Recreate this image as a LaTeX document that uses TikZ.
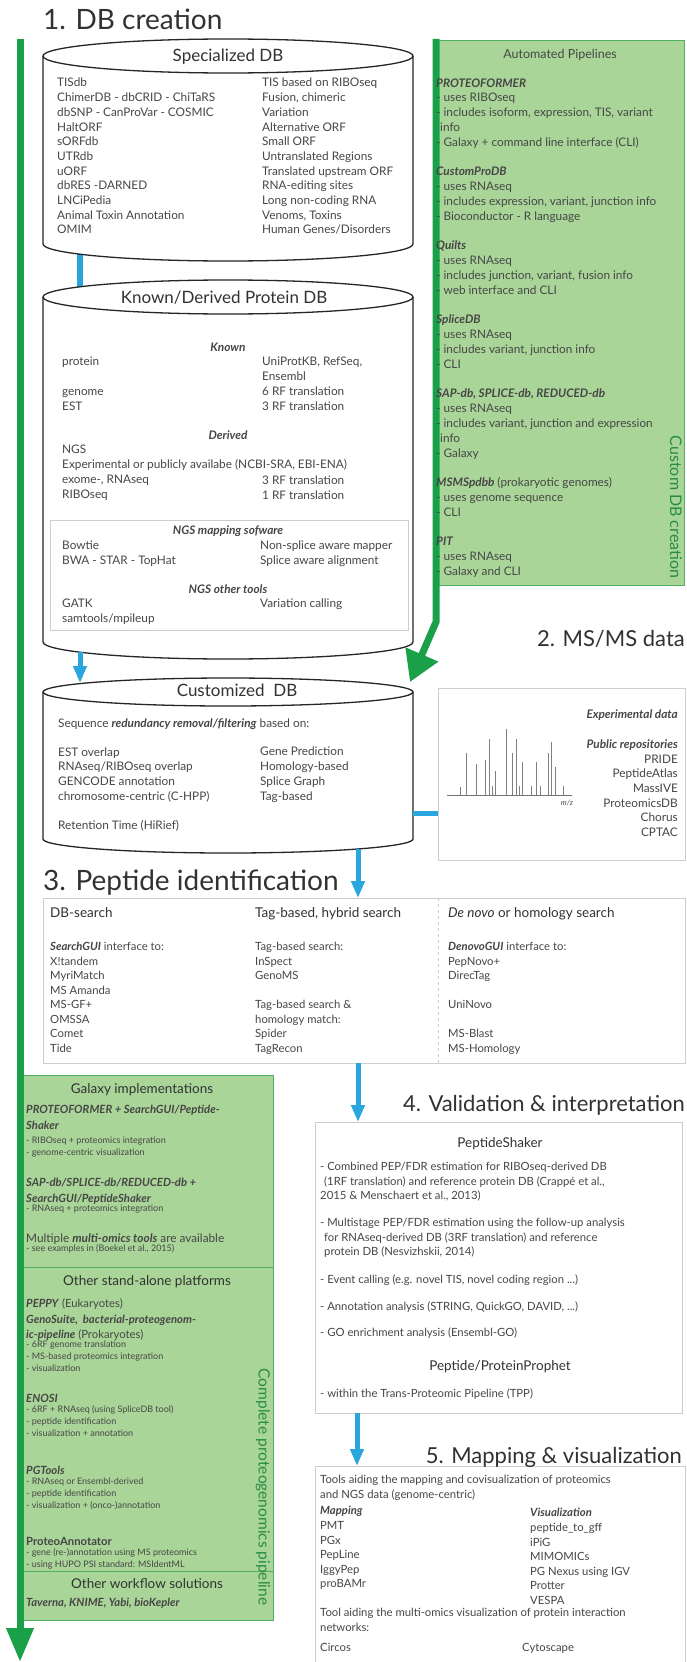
\documentclass[tikz,border=0pt]{standalone}
\usepackage{fontspec}
\setmainfont{Lato}
\usetikzlibrary{arrows.meta}
\definecolor{txtc}{RGB}{70,70,70}
\definecolor{titlec}{RGB}{50,50,50}
\definecolor{gline}{RGB}{27,160,74}
\definecolor{gfill}{RGB}{170,213,152}
\definecolor{gborder}{RGB}{80,175,100}
\definecolor{gtext}{RGB}{40,140,70}
\definecolor{bline}{RGB}{41,166,222}
\definecolor{boxgray}{RGB}{205,205,205}
\newcommand\fsz[2]{\fontsize{#1}{#2}\selectfont}
\newcommand\bi[1]{\textbf{\textit{#1}}}
\newcommand\dbcyl[5]{%
  \filldraw[cylline] ({#1-#2},#3) -- ({#1-#2},#4) arc[start angle=180,end angle=0,x radius=#2,y radius=#5] -- ({#1+#2},#3);
  \filldraw[cylline] (#1,#3) ellipse[x radius=#2,y radius=#5];}
\begin{document}
\begin{tikzpicture}[x=1pt,y=-1pt,
  t/.style={inner sep=0pt,text=txtc,font=\fsz{11.8}{14.7}},
  blk/.style={t,anchor=north west,align=left},
  blkr/.style={t,anchor=north east,align=right},
  sm/.style={blk,font=\fsz{11.3}{14.5}},
  tiny/.style={blk,font=\fsz{9}{12}},
  gh/.style={blk,font=\fsz{11.3}{15.5}\bfseries\itshape},
  hdr/.style={inner sep=0pt,text=titlec,font=\fsz{22}{26}},
  bighdr/.style={hdr,font=\fsz{28}{32}},
  dbt/.style={inner sep=0pt,text=titlec,font=\fsz{17}{20},anchor=base},
  sub/.style={inner sep=0pt,text=titlec,font=\fsz{13.5}{16}},
  cylline/.style={draw=black!85,line width=1.3pt,fill=white},
  graybox/.style={draw=boxgray,line width=0.9pt,inner sep=0pt,anchor=north west},
  greenbox/.style={draw=gborder,fill=gfill,line width=1pt,inner sep=0pt,anchor=north west},
  garrow/.style={draw=gline,line width=7pt},
  barrow/.style={draw=bline,line width=5pt,-{Triangle[length=17pt,width=13pt]}},
  vlabel/.style={inner sep=0pt,text=gtext,font=\fsz{16}{18},rotate=-90}]
\useasboundingbox (0,0) rectangle (686,1662);
\fill[white] (0,0) rectangle (686,1662);

% ---------- green boxes ----------
\node[greenbox,minimum width=251pt,minimum height=545pt] (pipe) at (433,40) {};
\node[greenbox,minimum width=251pt,minimum height=545pt] (galaxy) at (22,1075) {};
\draw[gborder,line width=0.8pt] (galaxy.west |- 0,1267) -- (galaxy.east |- 0,1267);
\draw[gborder,line width=0.8pt] (galaxy.west |- 0,1571) -- (galaxy.east |- 0,1571);

% ---------- gray boxes ----------
\node[graybox,minimum width=247pt,minimum height=172pt] (ms) at (438,688) {};
\node[graybox,minimum width=642pt,minimum height=165pt] (pep) at (43,898) {};
\draw[boxgray,line width=0.9pt,dashed] (438,898) -- (438,1063);
\node[graybox,minimum width=367pt,minimum height=291pt] (val) at (315,1122) {};
\coordinate (mapBL) at (315,1662);
\coordinate (mapTL) at (315,1466);
\coordinate (mapTR) at (685,1466);
\coordinate (mapBR) at (685,1662);
\draw[boxgray,line width=0.9pt] (mapBL) -- (mapTL) -- (mapTR) -- (mapBR);

% ---------- blue link hidden behind cylinders ----------
\coordinate (specB) at (80,250);
\coordinate (knownT) at (80,290);
\draw[bline,line width=6pt] (specB) -- (knownT);

% ---------- cylinders ----------
\dbcyl{228}{185}{56}{244}{17}
\dbcyl{228}{185}{297}{642}{17}
\dbcyl{228}{185}{692}{839}{14}
\draw[boxgray,line width=0.9pt] (50,520) rectangle (408,630);

% ---------- connectors ----------
\coordinate (gtop) at (20,39);
\coordinate (gbot) at (20,1662);
\draw[garrow,-{Triangle[length=34pt,width=26pt]}] (gtop) -- (gbot);
\coordinate (pbend) at (436,622);
\coordinate (custTR) at (410,682);
\draw[garrow,line join=miter,-{Triangle[length=30pt,width=34pt]}] (pipe.north west) ++(3,-1) -- (pbend) -- (custTR);
\coordinate (knownB) at (80,652);
\coordinate (custT) at (80,683);
\draw[barrow] (knownB) -- (custT);
\coordinate (custR) at (413,813);
\draw[bline,line width=5pt] (custR) -- (custR -| ms.west);
\coordinate (custB) at (358,849);
\draw[barrow] (custB) -- (custB |- pep.north);
\coordinate (pepB) at (358,1063);
\draw[barrow] (pepB) -- (pepB |- val.north);
\coordinate (valB) at (357,1413);
\draw[barrow] (valB) -- (mapTL -| valB);

% ---------- section titles ----------
\node[bighdr,anchor=base west] (h1) at (43,30) {1. DB creation};
\node[hdr,anchor=base east] (h2) at (685,646) {2. MS/MS data};
\node[bighdr,anchor=base west] (h3) at (43,890) {3. Peptide identification};
\node[hdr,anchor=base east] (h4) at (685,1111) {4. Validation \& interpretation};
\node[hdr,anchor=base east] (h5) at (682,1463) {5. Mapping \& visualization};

% ---------- Specialized DB ----------
\node[dbt] (specT) at (228,62) {Specialized DB};
\node[blk] (specL) at (57,76.5) {\strut TISdb\\ChimerDB - dbCRID - ChiTaRS\\dbSNP - CanProVar - COSMIC\\HaltORF\\sORFdb\\UTRdb\\uORF\\dbRES -DARNED\\LNCiPedia\\Animal Toxin Annotation\\OMIM};
\node[blk] (specR) at (262,76.5) {\strut TIS based on RIBOseq\\Fusion, chimeric\\Variation\\Alternative ORF\\Small ORF\\Untranslated Regions\\Translated upstream ORF\\RNA-editing sites\\Long non-coding RNA\\Venoms, Toxins\\Human Genes/Disorders};

% ---------- Known/Derived ----------
\node[dbt] (knownT2) at (224,303) {Known/Derived Protein DB};
\node[t,anchor=base,font=\fsz{11.8}{14.7}\bfseries\itshape] (kn) at (228,351) {Known};
\node[blk] (knL) at (62,355.5) {\strut protein\\[14.7pt]genome\\EST};
\node[blk] (knR) at (262,355.5) {\strut UniProtKB, RefSeq,\\Ensembl\\6 RF translation\\3 RF translation};
\node[t,anchor=base,font=\fsz{11.8}{14.7}\bfseries\itshape] (dv) at (228,439) {Derived};
\node[blk] (dvL) at (62,443.5) {\strut NGS\\Experimental or publicly availabe (NCBI-SRA, EBI-ENA)\\exome-, RNAseq\\RIBOseq};
\node[blk] (dvR) at (262,474.5) {\strut 3 RF translation\\1 RF translation};
\node[t,anchor=base,font=\fsz{11.8}{14.7}\bfseries\itshape] (ngsm) at (228,534) {NGS mapping sofware};
\node[blk] (ngsmL) at (62,539.5) {\strut Bowtie\\BWA - STAR - TopHat};
\node[blk] (ngsmR) at (260,539.5) {\strut Non-splice aware mapper\\Splice aware alignment};
\node[t,anchor=base,font=\fsz{11.8}{14.7}\bfseries\itshape] (ngso) at (228,593) {NGS other tools};
\node[blk] (ngsoL) at (62,597.5) {\strut GATK\\samtools/mpileup};
\node[blk] (ngsoR) at (260,597.5) {\strut Variation calling};

% ---------- Customized DB ----------
\node[dbt] (custTitle) at (237,696) {Customized~ DB};
\node[t,anchor=base west] (seq) at (58,727) {Sequence \bi{redundancy removal/filtering} based on:};
\node[blk] (custL) at (58,745.5) {\strut EST overlap\\RNAseq/RIBOseq overlap\\GENCODE annotation\\chromosome-centric (C-HPP)\\[14.7pt]Retention Time (HiRief)};
\node[blk] (custRt) at (260,745.5) {\strut Gene Prediction\\Homology-based\\Splice Graph\\Tag-based};

% ---------- Automated pipelines ----------
\node[t,anchor=base,font=\fsz{12.5}{14}] (apT) at (560,59) {Automated Pipelines};
\node[blk,font=\fsz{11.8}{14.8}] (apB) at (436,76.5) {\strut\bi{PROTEOFORMER}\\
- uses RIBOseq\\
- includes isoform, expression, TIS, variant\\
\hspace*{4pt}info\\
- Galaxy + command line interface (CLI)\\[14.8pt]
\bi{CustomProDB}\\
- uses RNAseq\\
- includes expression, variant, junction info\\
- Bioconductor - R language\\[14.8pt]
\bi{Quilts}\\
- uses RNAseq\\
- includes junction, variant, fusion info\\
- web interface and CLI\\[14.8pt]
\bi{SpliceDB}\\
- uses RNAseq\\
- includes variant, junction info\\
- CLI\\[14.8pt]
\bi{SAP-db, SPLICE-db, REDUCED-db}\\
- uses RNAseq\\
- includes variant, junction and expression\\
\hspace*{4pt}info\\
- Galaxy\\[14.8pt]
\bi{MSMSpdbb} (prokaryotic genomes)\\
- uses genome sequence\\
- CLI\\[14.8pt]
\bi{PIT}\\
- uses RNAseq\\
- Galaxy and CLI};
\node[vlabel] (apV) at (676,507) {Custom DB creation};

% ---------- MS/MS ----------
\node[blkr] (msT) at (678,708.5) {\strut\bi{Experimental data}\\[14.7pt]\bi{Public repositories}\\PRIDE\\PeptideAtlas\\MassIVE\\ProteomicsDB\\Chorus\\CPTAC};
\draw[black!55,line width=0.8pt] (447,795) -- (572,795);
\foreach \px/\py in {460.7/786.7,466.7/753,476.7/764,485/760,489.3/739,492/786,495.7/770.7,506/729,512/753,516.7/738.7,519.3/786,522.7/761.7,531.7/786,536/761.7,540/786,548.3/753,551.3/742.3,555.7/766.7,563.7/786}
  \draw[black!50,line width=0.8pt] (\px,795) -- (\px,\py);
\node[t,anchor=base,font=\fsz{7.5}{9}\itshape] (mz) at (567,805) {m/z};

% ---------- Peptide identification ----------
\node[sub,anchor=base west] (p1) at (50,917) {DB-search};
\node[sub,anchor=base west] (p2) at (255,917) {Tag-based, hybrid search};
\node[sub,anchor=base west] (p3) at (448,917) {\textit{De novo} or homology search};
\node[sm] (p1b) at (50,940.5) {\strut\bi{SearchGUI} interface to:\\X!tandem\\MyriMatch\\MS Amanda\\MS-GF+\\OMSSA\\Comet\\Tide};
\node[sm] (p2b) at (255,940.5) {\strut Tag-based search:\\InSpect\\GenoMS\\[14.5pt]Tag-based search \&\\homology match:\\Spider\\TagRecon};
\node[sm] (p3b) at (448,940.5) {\strut\bi{DenovoGUI} interface to:\\PepNovo+\\DirecTag\\[14.5pt]UniNovo\\[14.5pt]MS-Blast\\MS-Homology};

% ---------- Validation ----------
\node[sub,anchor=base,font=\fsz{13.5}{16}] (v1) at (500,1147) {PeptideShaker};
\node[sm] (v1b) at (320,1160.5) {\strut - Combined PEP/FDR estimation for RIBOseq-derived DB\\
\hspace*{4pt}(1RF translation) and reference protein DB (Crappé et al.,\\
2015 \& Menschaert et al., 2013)\\[12.5pt]
- Multistage PEP/FDR estimation using the follow-up analysis\\
\hspace*{4pt}for RNAseq-derived DB (3RF translation) and reference\\
\hspace*{4pt}protein DB (Nesvizhskii, 2014)\\[13pt]
- Event calling (e.g. novel TIS, novel coding region ...)\\[12.5pt]
- Annotation analysis (STRING, QuickGO, DAVID, ...)\\[12pt]
- GO enrichment analysis (Ensembl-GO)};
\node[sub,anchor=base,font=\fsz{13.5}{16}] (v2) at (500,1370) {Peptide/ProteinProphet};
\node[t,anchor=base west,font=\fsz{11.3}{14.5}] (v2b) at (320,1397) {- within the Trans-Proteomic Pipeline (TPP)};

% ---------- Mapping ----------
\node[sm] (m1) at (320,1473.5) {\strut Tools aiding the mapping and covisualization of proteomics\\and NGS data (genome-centric)};
\node[sm,font=\fsz{11.3}{14.6}] (m2) at (320,1504.5) {\strut\bi{Mapping}\\PMT\\PGx\\PepLine\\IggyPep\\proBAMr};
\node[sm,font=\fsz{11.3}{14.6}] (m3) at (530,1506.5) {\strut\bi{Visualization}\\peptide\_to\_gff\\iPiG\\MIMOMICs\\PG Nexus using IGV\\Protter\\VESPA};
\node[sm] (m4) at (320,1606.5) {\strut Tool aiding the multi-omics visualization of protein interaction\\networks:};
\node[t,anchor=base west,font=\fsz{11.3}{14.5}] (m5) at (320,1651) {Circos};
\node[t,anchor=base west,font=\fsz{11.3}{14.5}] (m6) at (522,1651) {Cytoscape};

% ---------- Galaxy / complete pipelines ----------
\node[sub,anchor=base] (g0) at (142,1093) {Galaxy implementations};
\node[gh] (g1) at (26,1102.5) {\strut PROTEOFORMER + SearchGUI/Peptide-\\Shaker};
\node[tiny] (g1s) at (26,1135) {\strut - RIBOseq + proteomics integration\\- genome-centric visualization};
\node[gh] (g2) at (26,1175.5) {\strut SAP-db/SPLICE-db/REDUCED-db +\\SearchGUI/PeptideShaker};
\node[tiny] (g2s) at (26,1203) {\strut - RNAseq + proteomics integration};
\node[blk] (g3) at (26,1231.5) {\strut Multiple \bi{multi-omics tools} are available};
\node[tiny] (g3s) at (26,1243) {\strut - see examples in (Boekel et al., 2015)};
\node[sub,anchor=base] (g4) at (147,1285) {Other stand-alone platforms};
\node[blk,font=\fsz{11.3}{15.5}] (g5) at (26,1296.5) {\strut\bi{PEPPY} (Eukaryotes)\\\bi{GenoSuite,~ bacterial-proteogenom-}\\\bi{ic-pipeline} (Prokaryotes)};
\node[tiny] (g5s) at (26,1339) {\strut - 6RF genome translation\\- MS-based proteomics integration\\- visualization};
\node[gh] (g6) at (26,1391.5) {\strut ENOSI};
\node[tiny] (g6s) at (26,1404) {\strut - 6RF + RNAseq (using SpliceDB tool)\\- peptide identification\\- visualization + annotation};
\node[gh] (g7) at (26,1463) {\strut PGTools};
\node[tiny] (g7s) at (26,1475.5) {\strut - RNAseq or Ensembl-derived\\- peptide identification\\- visualization + (onco-)annotation};
\node[blk,font=\fsz{11.3}{15.5}\bfseries] (g8) at (26,1534.5) {\strut ProteoAnnotator};
\node[tiny] (g8s) at (26,1547) {\strut - gene (re-)annotation using MS proteomics\\- using HUPO PSI standard: MSIdentML};
\node[sub,anchor=base] (g9) at (147,1588) {Other workflow solutions};
\node[t,anchor=base west,font=\fsz{11.3}{15}\bfseries\itshape] (g10) at (26,1606) {Taverna, KNIME, Yabi, bioKepler};
\node[vlabel,font=\fsz{15.5}{18}] (gV) at (263,1487) {Complete proteogenomics pipeline};
\end{tikzpicture}
\end{document}
